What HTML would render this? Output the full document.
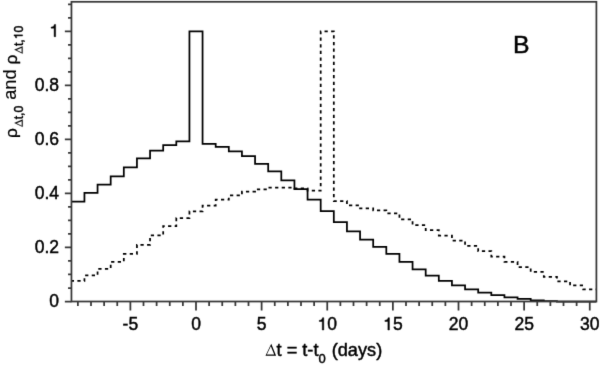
<!DOCTYPE html>
<html><head><meta charset="utf-8"><style>
html,body{margin:0;padding:0;background:#fff;}
body{width:600px;height:365px;overflow:hidden;}
svg{display:block;will-change:transform;}
text{font-family:"Liberation Sans",sans-serif;fill:#000;stroke:#000;stroke-width:0.45px;}
.th{stroke-width:0.3px;}.tm{stroke-width:0.15px;}
</style></head><body>
<svg width="600" height="365" viewBox="0 0 600 365">
<defs><filter id="bl" color-interpolation-filters="sRGB" x="0" y="0" width="600" height="365" filterUnits="userSpaceOnUse"><feConvolveMatrix order="3" kernelMatrix="0.00810 0.07380 0.00810 0.07380 0.67240 0.07380 0.00810 0.07380 0.00810" divisor="1" edgeMode="duplicate" preserveAlpha="false"/></filter></defs>
<g filter="url(#bl)">
<rect width="600" height="365" fill="#fff"/>
<path d="M71.31 280.97 L84.44 280.97 L84.44 275.49 L97.56 275.49 L97.56 268.82 L110.69 268.82 L110.69 261.80 L123.81 261.80 L123.81 253.96 L136.94 253.96 L136.94 244.83 L150.06 244.83 L150.06 235.33 L163.19 235.33 L163.19 226.14 L176.31 226.14 L176.31 218.04 L189.44 218.04 L189.44 211.29 L202.56 211.29 L202.56 205.61 L215.69 205.61 L215.69 199.67 L228.81 199.67 L228.81 195.46 L241.94 195.46 L241.94 191.57 L255.06 191.57 L255.06 189.30 L268.19 189.30 L268.19 187.65 L281.31 187.65 L281.31 187.65 L294.44 187.65 L294.44 188.46 L307.56 188.46 L307.56 190.65 L320.69 190.65 L320.69 31.40 L333.81 31.40 L333.81 201.02 L346.94 201.02 L346.94 205.34 L360.06 205.34 L360.06 208.48 L373.19 208.48 L373.19 210.48 L386.31 210.48 L386.31 213.26 L399.44 213.26 L399.44 219.39 L412.56 219.39 L412.56 225.06 L425.69 225.06 L425.69 230.19 L438.81 230.19 L438.81 235.60 L451.94 235.60 L451.94 240.62 L465.06 240.62 L465.06 245.86 L478.19 245.86 L478.19 251.07 L491.31 251.07 L491.31 256.66 L504.44 256.66 L504.44 261.80 L517.56 261.80 L517.56 267.20 L530.69 267.20 L530.69 271.90 L543.81 271.90 L543.81 276.84 L556.94 276.84 L556.94 281.40 L570.06 281.40 L570.06 285.48 L583.19 285.48 L583.19 289.40 L596.31 289.40" fill="none" stroke="#000" stroke-width="1.75" stroke-dasharray="3.25 3.3646" stroke-dashoffset="0.5436"/>
<path d="M71.31 201.56 L84.44 201.56 L84.44 192.92 L97.56 192.92 L97.56 184.55 L110.69 184.55 L110.69 176.44 L123.81 176.44 L123.81 167.26 L136.94 167.26 L136.94 158.35 L150.06 158.35 L150.06 150.54 L163.19 150.54 L163.19 145.03 L176.31 145.03 L176.31 141.44 L189.44 141.44 L189.44 31.40 L202.56 31.40 L202.56 143.95 L215.69 143.95 L215.69 146.84 L228.81 146.84 L228.81 151.32 L241.94 151.32 L241.94 156.19 L255.06 156.19 L255.06 163.86 L268.19 163.86 L268.19 171.31 L281.31 171.31 L281.31 180.36 L294.44 180.36 L294.44 189.14 L307.56 189.14 L307.56 199.67 L320.69 199.67 L320.69 211.02 L333.81 211.02 L333.81 222.17 L346.94 222.17 L346.94 231.38 L360.06 231.38 L360.06 239.65 L373.19 239.65 L373.19 246.94 L386.31 246.94 L386.31 253.96 L399.44 253.96 L399.44 261.80 L412.56 261.80 L412.56 269.36 L425.69 269.36 L425.69 275.57 L438.81 275.57 L438.81 280.78 L451.94 280.78 L451.94 285.29 L465.06 285.29 L465.06 289.35 L478.19 289.35 L478.19 292.59 L491.31 292.59 L491.31 295.02 L504.44 295.02 L504.44 297.45 L517.56 297.45 L517.56 298.80 L530.69 298.80 L530.69 300.31 L543.81 300.31 L543.81 301.23 L556.94 301.23 L556.94 301.50 L570.06 301.50 L570.06 301.50 L583.19 301.50 L583.19 301.50 L596.31 301.50" fill="none" stroke="#000" stroke-width="1.75" stroke-linejoin="miter"/>
<rect x="71.45" y="1.8" width="524.95" height="299.70" fill="none" stroke="#383838" stroke-width="1.75"/>
<path d="M64.85 301.50 H71.45 M68.05 288.00 H71.45 M68.05 274.49 H71.45 M68.05 260.99 H71.45 M64.85 247.48 H71.45 M68.05 233.97 H71.45 M68.05 220.47 H71.45 M68.05 206.96 H71.45 M64.85 193.46 H71.45 M68.05 179.95 H71.45 M68.05 166.45 H71.45 M68.05 152.94 H71.45 M64.85 139.44 H71.45 M68.05 125.93 H71.45 M68.05 112.43 H71.45 M68.05 98.92 H71.45 M64.85 85.42 H71.45 M68.05 71.91 H71.45 M68.05 58.41 H71.45 M68.05 44.90 H71.45 M64.85 31.40 H71.45 M68.05 17.89 H71.45 M68.05 4.39 H71.45 M77.88 301.50 V305.90 M91.00 301.50 V305.90 M104.12 301.50 V305.90 M117.25 301.50 V305.90 M130.38 301.50 V310.50 M143.50 301.50 V305.90 M156.62 301.50 V305.90 M169.75 301.50 V305.90 M182.88 301.50 V305.90 M196.00 301.50 V310.50 M209.12 301.50 V305.90 M222.25 301.50 V305.90 M235.38 301.50 V305.90 M248.50 301.50 V305.90 M261.62 301.50 V310.50 M274.75 301.50 V305.90 M287.88 301.50 V305.90 M301.00 301.50 V305.90 M314.12 301.50 V305.90 M327.25 301.50 V310.50 M340.38 301.50 V305.90 M353.50 301.50 V305.90 M366.62 301.50 V305.90 M379.75 301.50 V305.90 M392.88 301.50 V310.50 M406.00 301.50 V305.90 M419.12 301.50 V305.90 M432.25 301.50 V305.90 M445.38 301.50 V305.90 M458.50 301.50 V310.50 M471.62 301.50 V305.90 M484.75 301.50 V305.90 M497.88 301.50 V305.90 M511.00 301.50 V305.90 M524.12 301.50 V310.50 M537.25 301.50 V305.90 M550.38 301.50 V305.90 M563.50 301.50 V305.90 M576.62 301.50 V305.90 M589.75 301.50 V310.50" stroke="#383838" stroke-width="1.75" fill="none"/>
<g font-size="17.5" fill="#000">
<text x="49.367" y="306.800">0</text>
<text x="34.773" y="252.780">0</text><text x="44.505" y="252.780">.</text><text x="49.367" y="252.780">2</text>
<text x="34.773" y="198.760">0</text><text x="44.505" y="198.760">.</text><text x="49.367" y="198.760">4</text>
<text x="34.773" y="144.740">0</text><text x="44.505" y="144.740">.</text><text x="49.367" y="144.740">6</text>
<text x="34.773" y="90.720">0</text><text x="44.505" y="90.720">.</text><text x="49.367" y="90.720">8</text>
<path d="M271 0L359 0L359 703L287 703C272 644 250 612 218 590C186 568 150 556 101 552L101 487L271 487Z" transform="translate(49.367 36.700) scale(0.01750 -0.01750)" stroke="#000" stroke-width="25.7"/>
<text x="122.595" y="330.000">-</text><text x="128.423" y="330.000">5</text>
<text x="191.134" y="330.000">0</text>
<text x="256.759" y="330.000">5</text>
<path d="M271 0L359 0L359 703L287 703C272 644 250 612 218 590C186 568 150 556 101 552L101 487L271 487Z" transform="translate(317.517 330.000) scale(0.01750 -0.01750)" stroke="#000" stroke-width="25.7"/><text x="327.250" y="330.000">0</text>
<path d="M271 0L359 0L359 703L287 703C272 644 250 612 218 590C186 568 150 556 101 552L101 487L271 487Z" transform="translate(383.142 330.000) scale(0.01750 -0.01750)" stroke="#000" stroke-width="25.7"/><text x="392.875" y="330.000">5</text>
<text x="448.767" y="330.000">2</text><text x="458.500" y="330.000">0</text>
<text x="514.392" y="330.000">2</text><text x="524.125" y="330.000">5</text>
<text x="580.017" y="330.000">3</text><text x="589.750" y="330.000">0</text>
</g>
<path d="M0.1 0L10.7 0L5.85 -11.9ZM1.409 -1.1L5.416 -9.391L8.794 -1.1Z" fill-rule="evenodd" transform="translate(265.400 355.700) scale(1.00000)"/><text x="276.538" y="355.700" font-size="18.2">t = t-t</text><text x="318.510" y="362.500" font-size="13.0">0</text><text x="331.697" y="355.700" font-size="18.2">(days)</text>
<g transform="rotate(-90)"><text class="th" x="-138.111" y="16.550" font-size="17.4">&#961;</text><path d="M0.1 0L10.7 0L5.85 -11.9ZM1.409 -1.1L5.416 -9.391L8.794 -1.1Z" fill-rule="evenodd" transform="translate(-126.845 22.600) scale(0.67582)" stroke="#000" stroke-width="0.444"/><text x="-119.317" y="22.600" font-size="12.3">t,0</text><text class="tm" x="-99.783" y="16.100" font-size="18.2">and</text><text class="th" x="-64.611" y="16.550" font-size="17.4">&#961;</text><path d="M0.1 0L10.7 0L5.85 -11.9ZM1.409 -1.1L5.416 -9.391L8.794 -1.1Z" fill-rule="evenodd" transform="translate(-53.615 22.600) scale(0.67582)" stroke="#000" stroke-width="0.444"/><text x="-46.088" y="22.600" font-size="12.3">t,</text><path d="M271 0L359 0L359 703L287 703C272 644 250 612 218 590C186 568 150 556 101 552L101 487L271 487Z" transform="translate(-39.253 22.600) scale(0.01230 -0.01230)" stroke="#000" stroke-width="36.6"/><text x="-32.412" y="22.600" font-size="12.3">0</text></g>
<text x="513.0" y="53.25" font-size="24.8">B</text>
</g>
</svg>
</body></html>
